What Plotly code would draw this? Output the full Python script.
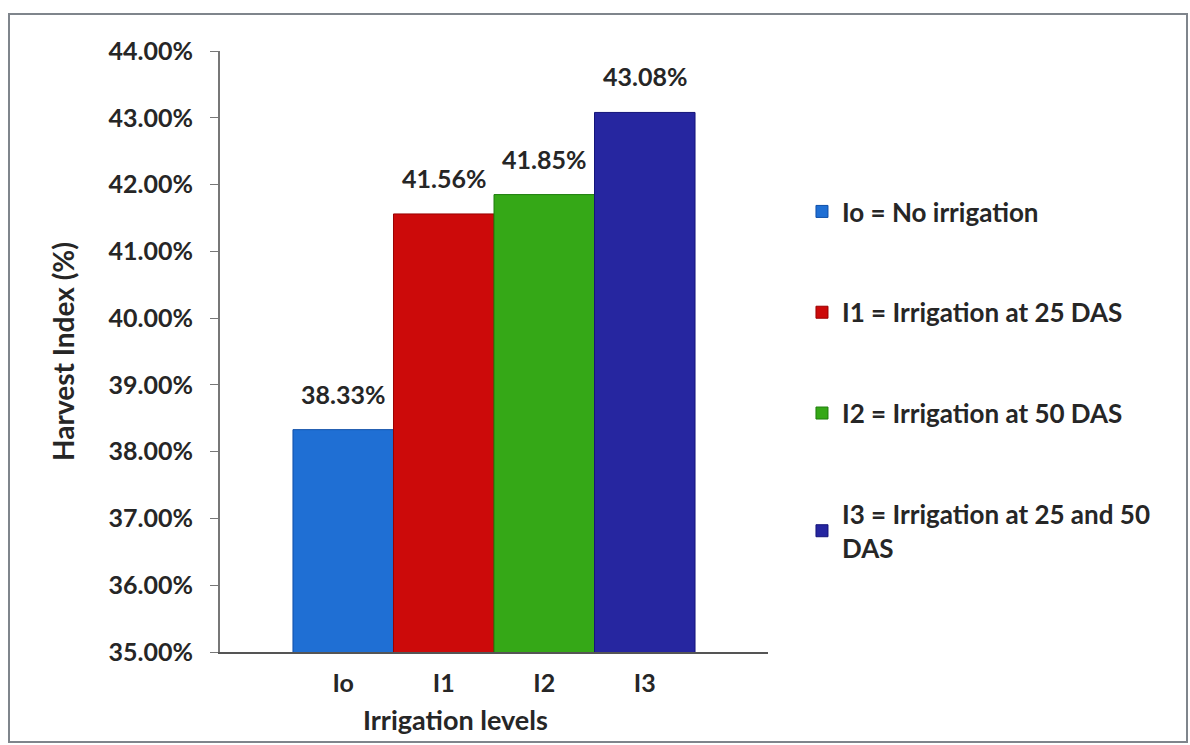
import plotly.graph_objects as go

# Harvest index by irrigation level
levels = ["Io", "I1", "I2", "I3"]
legend_names = [
    "Io = No irrigation",
    "I1 = Irrigation at 25 DAS",
    "I2 = Irrigation at 50 DAS",
    "I3 = Irrigation at 25 and 50<br>DAS",
]
harvest_index = [0.3833, 0.4156, 0.4185, 0.4308]
bar_colors = ["#1f6fd4", "#cc0a0a", "#35a817", "#2626a0"]
edge_colors = ["#0f4fa8", "#9a0000", "#1e7e0c", "#14147a"]

y_ticks = [0.35, 0.36, 0.37, 0.38, 0.39, 0.40, 0.41, 0.42, 0.43, 0.44]

FONT = "Lato"
TEXT = "#262626"
SIZE = 25

fig = go.Figure()
for name, lvl, val, col, edge in zip(legend_names, levels, harvest_index, bar_colors, edge_colors):
    fig.add_trace(go.Bar(
        x=[lvl], y=[val], name=name, legendgroup=lvl,
        width=1.0,
        marker=dict(color=col, line=dict(color=edge, width=1)),
    ))
    # value label above each bar
    fig.add_annotation(
        x=lvl, y=val, text=f"{val * 100:.2f}%",
        xanchor="center", yanchor="bottom", yshift=19,
        showarrow=False,
        font=dict(family=FONT, size=SIZE, color=TEXT, weight="bold"),
    )

fig.update_layout(
    width=1190, height=745,
    margin=dict(l=220, r=422, t=51, b=93),
    paper_bgcolor="white", plot_bgcolor="white",
    barmode="overlay",
    font=dict(family=FONT, color=TEXT),
    legend=dict(
        x=1.062, y=0.772, xanchor="left", yanchor="top",
        font=dict(family=FONT, size=26, color=TEXT, weight="bold"),
        tracegroupgap=64, itemwidth=30,
        bgcolor="rgba(0,0,0,0)",
    ),
    xaxis=dict(
        categoryorder="array", categoryarray=levels,
        range=[-1.226, 4.226],
        showline=True, linecolor="#555555", linewidth=2,
        ticks="", showgrid=False, ticklabelstandoff=8,
        tickfont=dict(family=FONT, size=SIZE, color=TEXT, weight="bold"),
    ),
    yaxis=dict(
        range=[0.35, 0.44], tickvals=y_ticks, tickformat=".2%",
        showline=True, linecolor="#777777", linewidth=2,
        ticks="outside", ticklen=8, tickcolor="#777777",
        ticklabelstandoff=12,
        showgrid=False, zeroline=False,
        tickfont=dict(family=FONT, size=SIZE, color=TEXT, weight="bold"),
        title=dict(text="Harvest Index (%)", standoff=26,
                   font=dict(family=FONT, size=28, color=TEXT, weight="bold")),
    ),
)

# x-axis title
fig.add_annotation(
    text="Irrigation levels", xref="paper", yref="paper",
    x=(455 - 220) / 548, y=-0.113, xanchor="center", yanchor="middle",
    showarrow=False, font=dict(family=FONT, size=27, color=TEXT, weight="bold"),
)

# chart frame
fig.add_shape(
    type="rect", xref="paper", yref="paper",
    x0=(9 - 220) / 548, x1=(1187 - 220) / 548,
    y0=(652 - 742) / 601, y1=(652 - 14) / 601,
    line=dict(color="#7f858c", width=2), fillcolor="rgba(0,0,0,0)", layer="below",
)

fig.write_html("out.html")
